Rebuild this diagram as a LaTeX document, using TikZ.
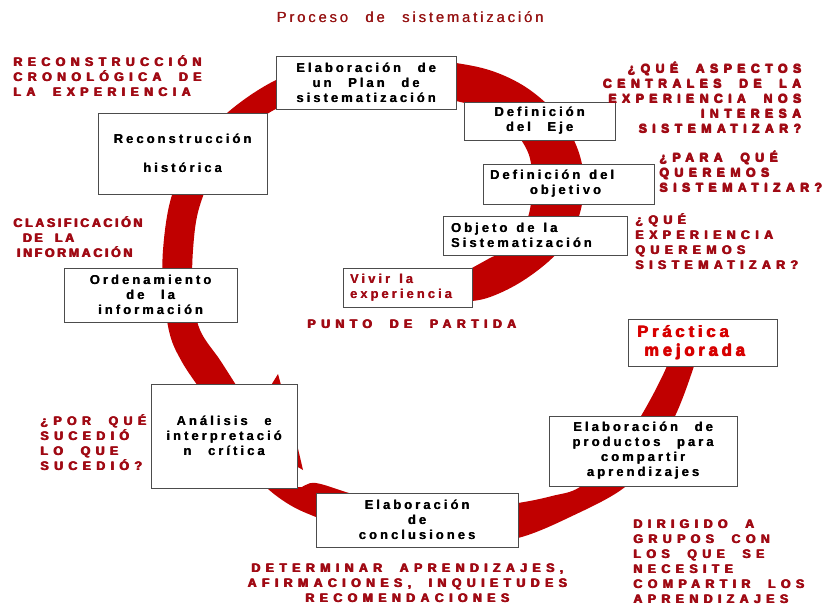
\documentclass[tikz,border=0pt]{standalone}
\usepackage{fontspec}
\setmainfont{Liberation Sans}
\newfontfamily\boxfont{Liberation Sans}[LetterSpace=24, WordSpace=2.5]
\newfontfamily\lblfont{Liberation Sans Bold}[LetterSpace=44, WordSpace=2]
\newfontfamily\titlefont{Liberation Sans}[LetterSpace=20, WordSpace=2.5]
\newcommand{\wsp}{\hspace{0.7em}}
% kraeftigere Schrift durch Ueberlagerung
\newcommand{\hv}[1]{\leavevmode\rlap{\kern0.8pt#1}\rlap{\kern0.4pt\raisebox{0.4pt}{#1}}#1}
\newcommand{\hb}[1]{\leavevmode\rlap{\kern0.35pt#1}#1}
\definecolor{bandred}{RGB}{192,0,0}
\definecolor{lblred}{RGB}{160,10,20}
\definecolor{brightred}{RGB}{215,0,0}
\definecolor{titlered}{RGB}{150,20,20}
\begin{document}
\begin{tikzpicture}[x=0.03cm, y=-0.03cm,
    box/.style={draw=black!70, fill=white, line width=0.8pt, inner sep=0pt, align=center,
        font=\boxfont\bfseries\fontsize{11}{12.8}\selectfont},
    question/.style={text=lblred, inner sep=0pt, font=\lblfont\fontsize{10.5}{12.8}\selectfont},
    band/.style={fill=bandred}
]
\useasboundingbox (0,0) rectangle (825,607);
% --- Titel ---
\node[text=titlered, font=\titlefont\fontsize{12.5}{14}\selectfont] (titulo) at (410,17) {\hb{Proceso de sistematización}};
% --- Spirale: obere Windung mit Pfeilspitze ---
\fill[band] plot[smooth, tension=0.6] coordinates {(430,300) (472,301) (500,293) (530,276) (558,252)
    (577,222) (584,185) (578,150) (560,118) (530,90) (495,72) (456,63) (400,57) (330,62) (276,80)
    (227,113) (195,150) (172,195) (163,250) (164,295) (170,335) (182,362) (198,386)}
  -- (225,425) -- (303,470) -- (296,440) -- (278,374) -- (262,400)
  -- plot[smooth, tension=0.6] coordinates {(236,385) (220,360) (200,330) (193,295) (193,250)
    (200,205) (222,160) (272,111) (330,100) (400,97) (456,101) (500,118) (527,150) (532,185)
    (527,220) (508,248) (490,258) (470,269) (440,285)} -- cycle;
% --- Spirale: untere Windung ---
\fill[band] plot[smooth, tension=0.6] coordinates {(250,468) (267,488) (290,505) (316,517) (360,533)
    (420,543) (470,543) (518,538) (570,517) (625,487) (655,450) (676,414) (694,366) (702,335)}
  -- plot[smooth, tension=0.6] coordinates {(676,335) (667,366) (641,416) (612,458) (580,487)
    (552,496) (518,503) (470,509) (420,507) (360,496) (316,483) (298,487) (284,470)} -- cycle;
% --- Kaesten ---
\node[box, minimum width=5.4cm, minimum height=1.59cm] (plan) at (366,82.5) {\hb{Elaboración de}\\\hb{un Plan de}\\\hb{sistematización}};
\node[box, minimum width=5.07cm, minimum height=2.43cm] (recon) at (182.5,153.5) {\hb{Reconstrucción}\\[12pt]\hb{histórica}};
\node[box, minimum width=4.53cm, minimum height=1.14cm] (eje) at (539.5,121) {\hb{Definición}\\\hb{del Eje}};
\node[box, align=left, text width=4.71cm, inner xsep=0.21cm, minimum height=1.2cm] (objetivo) at (568.5,184) {\hb{Definición\wsp del}\\\hspace*{34pt}\hb{objetivo}};
\node[box, align=left, text width=5.04cm, inner xsep=0.24cm, minimum height=1.17cm] (objeto) at (535,235.5) {\hb{Objeto\wsp de\wsp la}\\\hb{Sistematización}};
\node[box, align=left, text width=3.45cm, inner xsep=0.21cm, minimum height=1.17cm, text=lblred] (vivir) at (407.5,287.5) {\hb{Vivir\wsp la}\\\hb{experiencia}};
\node[box, minimum width=5.19cm, minimum height=1.62cm] (orden) at (150.5,295) {\hb{Ordenamiento}\\\hb{de la}\\\hb{información}};
\node[box, minimum width=4.38cm, minimum height=3.12cm] (analisis) at (224,436) {\hb{Análisis e}\\\hb{interpretació}\\\hb{n crítica}};
\node[box, minimum width=6.06cm, minimum height=1.62cm] (concl) at (417,520) {\hb{Elaboración}\\\hb{de}\\\hb{conclusiones}};
\node[box, minimum width=5.64cm, minimum height=2.1cm] (productos) at (643,451) {\hb{Elaboración de}\\\hb{productos para}\\\hb{compartir}\\\hb{aprendizajes}};
\node[box, align=left, text width=3.93cm, inner xsep=0.27cm, minimum height=1.41cm, text=brightred,
    font=\boxfont\bfseries\fontsize{14}{16}\selectfont] (practica) at (702.5,342.5) {\hv{Práctica}\\\hspace*{6pt}\hv{mejorada}};
% --- Fragen und Hinweise ---
\node[question, align=left, anchor=west] (cronoLbl) at (13,76) {\hv{RECONSTRUCCIÓN}\\\hv{CRONOLÓGICA DE}\\\hv{LA EXPERIENCIA}};
\node[question, align=right, anchor=east] (aspectosLbl) at (801,97.5) {\hv{¿QUÉ ASPECTOS}\\\hv{CENTRALES DE LA}\\\hv{EXPERIENCIA NOS}\\\hv{INTERESA}\\\hv{SISTEMATIZAR?}};
\node[question, align=left, anchor=west] (paraLbl) at (659,171.5) {\hv{¿PARA QUÉ}\\\hv{QUEREMOS}\\\hv{SISTEMATIZAR?}};
\node[question, align=left, anchor=west] (expLbl) at (635,241.5) {\hv{¿QUÉ}\\\hv{EXPERIENCIA}\\\hv{QUEREMOS}\\\hv{SISTEMATIZAR?}};
\node[question, align=left, anchor=west, font=\lblfont\addfontfeature{LetterSpace=22}\fontsize{10.5}{12.8}\selectfont] (clasifLbl) at (13,237) {\hv{CLASIFICACIÓN}\\\hspace*{8pt}\hv{DE LA}\\\hspace*{3pt}\hv{INFORMACIÓN}};
\node[question, anchor=west] (puntoLbl) at (307,324) {\hv{PUNTO DE PARTIDA}};
\node[question, align=left, anchor=west] (porqueLbl) at (40,442.5) {\hv{¿POR QUÉ}\\\hv{SUCEDIÓ}\\\hv{LO QUE}\\\hv{SUCEDIÓ?}};
\node[question, align=center] (aprendLbl) at (407,583) {\hv{DETERMINAR APRENDIZAJES,}\\\hv{AFIRMACIONES, INQUIETUDES}\\\hv{RECOMENDACIONES}};
\node[question, align=left, anchor=west] (dirigidoLbl) at (633,562) {\hv{DIRIGIDO A}\\\hv{GRUPOS CON}\\\hv{LOS QUE SE}\\\hv{NECESITE}\\\hv{COMPARTIR LOS}\\\hv{APRENDIZAJES}};
\end{tikzpicture}
\end{document}
